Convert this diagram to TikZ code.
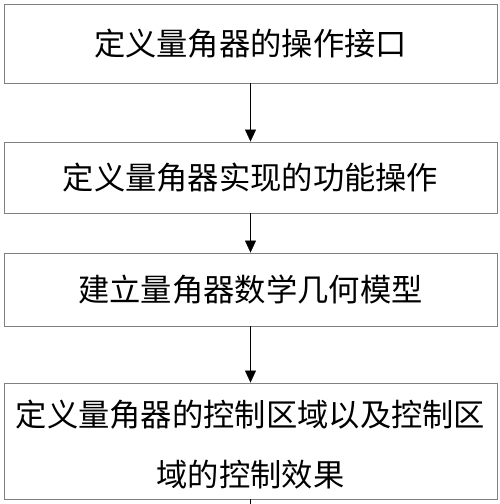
\documentclass[tikz,border=0pt]{standalone}
\usepackage{fontspec}
\newfontfamily\cjk{Noto Sans CJK SC}
\usetikzlibrary{arrows.meta}

\begin{document}
\begin{tikzpicture}[x=1pt, y=-1pt, >={Triangle[length=12pt,width=11pt]}]
\tikzset{stepbox/.style={draw=gray, line width=0.9pt, inner sep=0pt, minimum width=493pt, align=center, font=\cjk\fontsize{31.3}{60}\selectfont}}
\useasboundingbox (0,0) rectangle (500,504);

\node[name=s1, stepbox, minimum height=79pt] at (250.5,43.5) {定义量角器的操作接口};
\node[name=s2, stepbox, minimum height=71pt] at (250.5,177.5) {定义量角器实现的功能操作};
\node[name=s3, stepbox, minimum height=73pt] at (250.5,289.5) {建立量角器数学几何模型};
\node[name=s4, stepbox, minimum height=116pt, text height=94pt] at (250.5,441) {定义量角器的控制区域以及控制区\\域的控制效果};
\coordinate (e) at (250.5,530);

\draw[->] (s1) -- (s2);
\draw[->] (s2) -- (s3);
\draw[->] (s3) -- (s4);
\draw[->] (s4) -- (e);
\end{tikzpicture}
\end{document}
